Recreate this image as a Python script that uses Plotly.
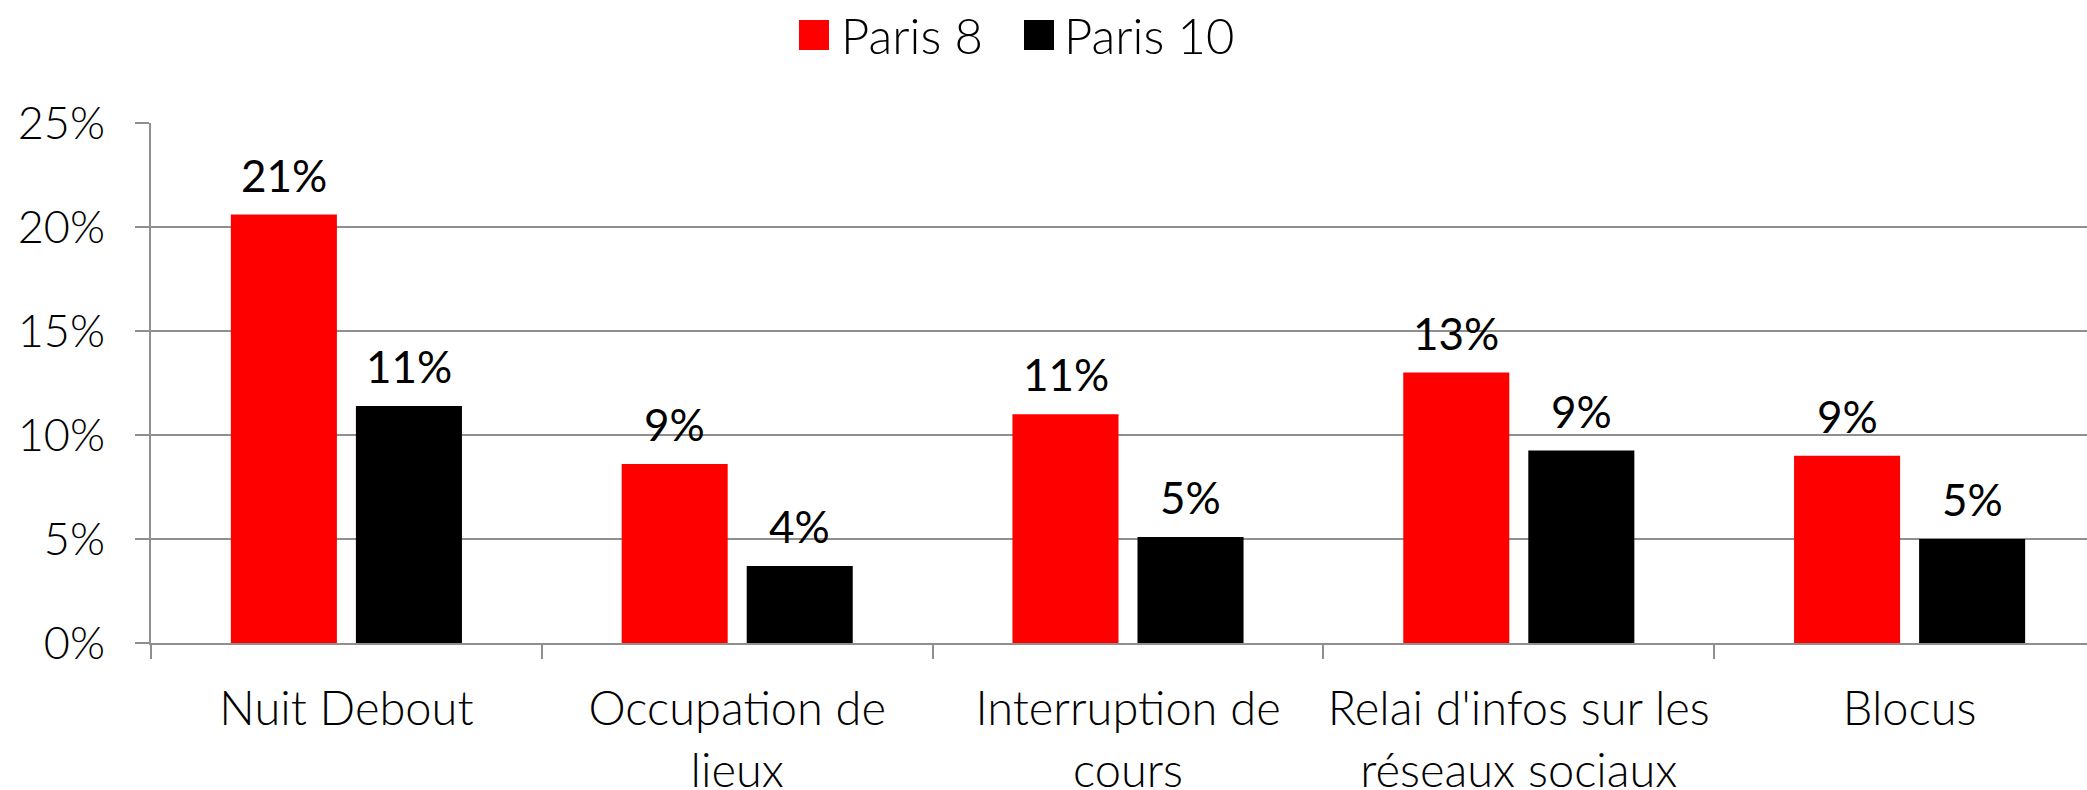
import plotly.graph_objects as go

categories = ["Nuit Debout", "Occupation de lieux", "Interruption de cours",
              "Relai d'infos sur les réseaux sociaux", "Blocus"]
tick_text = ["Nuit Debout", "Occupation de<br>lieux", "Interruption de<br>cours",
             "Relai d'infos sur les<br>réseaux sociaux", "Blocus"]
paris8 = [0.206, 0.086, 0.110, 0.130, 0.090]
paris10 = [0.114, 0.037, 0.051, 0.0925, 0.050]
series_names = ["Paris 8", "Paris 10"]
series_colors = ["#FF0000", "#000000"]
y_ticks = [0, 0.05, 0.10, 0.15, 0.20, 0.25]

W, H = 2087, 790
ML, MR, MT, MB = 151, 0, 123, 147
PW, PH = W - ML - MR, H - MT - MB
cat_w = 390.8
x_hi = -0.5 + PW / cat_w

GRID = "#8f8f8f"
FONT = "Lato"

fig = go.Figure()
for name, vals, col in zip(series_names, [paris8, paris10], series_colors):
    fig.add_trace(go.Bar(x=categories, y=vals, name=name, marker_color=col,
                         marker_line_width=0, showlegend=False, hoverinfo="skip"))

annotations = []
for k, vals in enumerate([paris8, paris10]):
    shift = -62.5 if k == 0 else 62.5
    for c, v in zip(categories, vals):
        annotations.append(dict(x=c, y=v, xref="x", yref="y", text=f"{round(v*100):.0f}%",
                                showarrow=False, xshift=shift, yshift=40, yanchor="middle",
                                font=dict(family=FONT, size=44, color="black")))

# legend (drawn manually to get large square symbols)
def px2paper_x(px):
    return (px - ML) / PW

def px2paper_y(py):
    return (H - MB - py) / PH

shapes = []
leg_sq = [(799, 829), (1024, 1054)]
leg_txt_x = [839, 1062]
for (x0, x1), col, name, tx in zip(leg_sq, series_colors, series_names, leg_txt_x):
    shapes.append(dict(type="rect", xref="paper", yref="paper",
                       x0=px2paper_x(x0), x1=px2paper_x(x1),
                       y0=px2paper_y(50), y1=px2paper_y(20),
                       fillcolor=col, line_width=0))
    annotations.append(dict(x=px2paper_x(tx), y=px2paper_y(35), xref="paper", yref="paper",
                            text=name, showarrow=False, xanchor="left", yanchor="middle",
                            font=dict(family=FONT, size=49, color="black", weight=300)))

fig.update_layout(
    width=W, height=H, autosize=False,
    margin=dict(l=ML, r=MR, t=MT, b=MB),
    paper_bgcolor="white", plot_bgcolor="white",
    barmode="group", bargap=0.36, bargroupgap=0.152,
    shapes=shapes, annotations=annotations,
    font=dict(family=FONT, color="black"),
)
fig.update_xaxes(
    range=[-0.5, x_hi], tickvals=categories, ticktext=tick_text,
    showline=True, linecolor=GRID, linewidth=2,
    ticks="outside", tickson="boundaries", ticklen=14, tickwidth=2, tickcolor=GRID,
    ticklabelstandoff=24, tickangle=0, automargin=False,
    tickfont=dict(family=FONT, size=47, color="black", weight=300),
    showgrid=False, zeroline=False,
)
fig.update_yaxes(
    range=[0, 0.25], tickvals=y_ticks, tickformat=".0%",
    showline=True, linecolor=GRID, linewidth=2,
    ticks="outside", ticklen=14, tickwidth=2, tickcolor=GRID,
    ticklabelstandoff=21, automargin=False,
    showgrid=True, gridcolor=GRID, gridwidth=2, zeroline=False,
    tickfont=dict(family=FONT, size=45, color="black", weight=300),
)

fig.write_html("out.html", config={"displayModeBar": False},
               post_script="document.body.style.margin='0';document.body.style.padding='0';")
